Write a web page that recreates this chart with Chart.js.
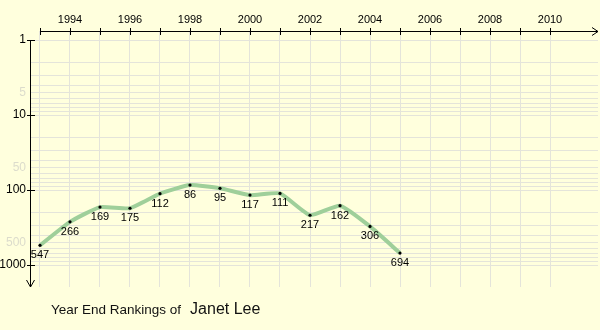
<!DOCTYPE html>
<html>
<head>
<meta charset="utf-8">
<script src="https://cdn.jsdelivr.net/npm/chart.js@4.4.1/dist/chart.umd.min.js"></script>
<style>
  html, body { margin: 0; padding: 0; background: #ffffdd; }
  #wrap { position: relative; width: 600px; height: 330px; }
  #title { position: absolute; left: 51px; top: 300px; font-family: "Liberation Sans", Arial, sans-serif; color: #111; white-space: nowrap; }
  #title .lead { font-size: 13.5px; }
  #title .name { font-size: 16px; margin-left: 9px; }
</style>
</head>
<body>
<div id="wrap">
  <canvas id="chart" width="600" height="330"></canvas>
  <div id="title"><span class="lead">Year End Rankings of</span><span class="name">Janet Lee</span></div>
</div>
<script>
// ================================
// Datos
// ================================
const years = [1993, 1994, 1995, 1996, 1997, 1998, 1999, 2000, 2001, 2002, 2003, 2004, 2005];
const rankings = [547, 266, 169, 175, 112, 86, 95, 117, 111, 217, 162, 306, 694];
const yearTicks = [1993, 1994, 1995, 1996, 1997, 1998, 1999, 2000, 2001, 2002, 2003, 2004, 2005, 2006, 2007, 2008, 2009, 2010];
const rankTicks = [1, 2, 3, 4, 5, 6, 7, 8, 9, 10, 20, 30, 40, 50, 60, 70, 80, 90, 100, 200, 300, 400, 500, 600, 700, 800, 900, 1000];
const majorRanks = [1, 10, 100, 1000];
const greyRanks = [5, 50, 500];

const FONT = "'Liberation Sans', Arial, sans-serif";
const GRID = "#e4e4da";

// ================================
// Ejes dibujados a mano (flechas y marcas)
// ================================
const axesPlugin = {
  id: "axes",
  afterDraw(chart) {
    const ctx = chart.ctx;
    const xs = chart.scales.x, ys = chart.scales.y;
    const ax = xs.bottom, ay = ys.right;
    ctx.save();
    ctx.strokeStyle = "#000";
    ctx.lineWidth = 1;
    ctx.beginPath();
    // eje x arriba
    ctx.moveTo(xs.getPixelForValue(yearTicks[0]), ax + 0.5);
    ctx.lineTo(598, ax + 0.5);
    ctx.moveTo(592, ax - 3.5);
    ctx.lineTo(598, ax + 0.5);
    ctx.lineTo(592, ax + 4.5);
    yearTicks.forEach(y => {
      const px = Math.round(xs.getPixelForValue(y)) + 0.5;
      ctx.moveTo(px, ax - 3);
      ctx.lineTo(px, ax + 4);
    });
    // eje y
    ctx.moveTo(ay + 0.5, ys.getPixelForValue(1));
    ctx.lineTo(ay + 0.5, 287);
    ctx.moveTo(ay - 3.5, 280);
    ctx.lineTo(ay + 0.5, 287);
    ctx.lineTo(ay + 4.5, 280);
    majorRanks.forEach(r => {
      const py = Math.round(ys.getPixelForValue(r)) + 0.5;
      ctx.moveTo(ay - 3, py);
      ctx.lineTo(ay + 5, py);
    });
    ctx.stroke();

    // etiquetas de valores
    const meta = chart.getDatasetMeta(0);
    ctx.fillStyle = "#000";
    ctx.font = "11px " + FONT;
    ctx.textAlign = "center";
    ctx.textBaseline = "middle";
    meta.data.forEach((pt, i) => {
      ctx.fillText(String(rankings[i]), pt.x, pt.y + 10);
    });
    ctx.restore();
  }
};

new Chart(document.getElementById("chart"), {
  type: "line",
  data: {
    datasets: [{
      data: years.map((y, i) => ({ x: y, y: rankings[i] })),
      borderColor: "#9fcf9a",
      borderWidth: 4,
      tension: 0.15,
      pointRadius: 1.6,
      pointBackgroundColor: "#000",
      pointBorderWidth: 0,
      pointHoverRadius: 1.6
    }]
  },
  options: {
    responsive: false,
    animation: false,
    events: [],
    layout: { padding: { top: 0, left: 0, right: 2, bottom: 43 } },
    plugins: { legend: { display: false }, tooltip: { enabled: false } },
    scales: {
      x: {
        type: "linear",
        position: "top",
        min: 1993 - 10 / 30,
        max: 1993 + 558 / 30,
        afterBuildTicks: s => { s.ticks = yearTicks.map(v => ({ value: v })); },
        afterFit: s => { s.height = 31; },
        border: { display: false },
        grid: { color: GRID, drawTicks: false },
        ticks: {
          padding: 4,
          color: "#000",
          font: { family: FONT, size: 11 },
          maxRotation: 0,
          autoSkip: false,
          callback: v => (v % 2 === 0 ? String(v) : "")
        }
      },
      y: {
        type: "logarithmic",
        reverse: true,
        min: Math.pow(10, -9 / 75),
        max: Math.pow(10, 247 / 75),
        afterBuildTicks: s => { s.ticks = rankTicks.map(v => ({ value: v })); },
        afterFit: s => { s.width = 30; },
        border: { display: false },
        grid: { color: GRID, drawTicks: false },
        ticks: {
          padding: 4,
          autoSkip: false,
          font: { family: FONT, size: 12 },
          color: c => (greyRanks.includes(c.tick && c.tick.value) ? "#dcdccc" : "#000"),
          callback: v => (majorRanks.includes(v) || greyRanks.includes(v) ? String(v) : "")
        }
      }
    }
  },
  plugins: [axesPlugin]
});
</script>
</body>
</html>
